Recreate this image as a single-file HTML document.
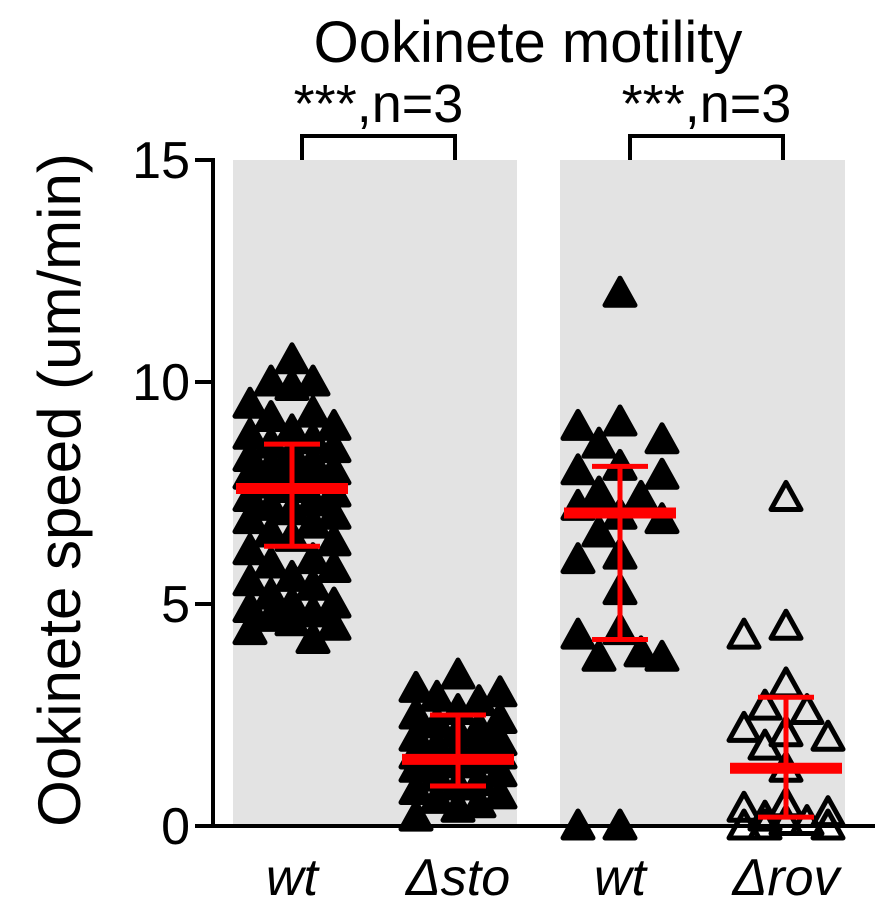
<!DOCTYPE html>
<html><head><meta charset="utf-8"><style>
body{margin:0;background:#fff}
svg text{font-family:"Liberation Sans",sans-serif;fill:#000}
</style></head><body>
<svg id="chart" width="875" height="913" viewBox="0 0 875 913" xmlns="http://www.w3.org/2000/svg">
<rect x="233" y="160" width="284" height="666" fill="#e3e3e3"/>
<rect x="560" y="160" width="285" height="666" fill="#e3e3e3"/>
<text x="528" y="62" font-size="58" text-anchor="middle">Ookinete motility</text>
<text transform="translate(80,490) rotate(-90)" font-size="60" text-anchor="middle">Ookinete speed (um/min)</text>
<g id="sig"></g>
<g id="marks"></g>
<g id="axes"></g>
</svg>
<script>
const categories = ["wt", "Δsto", "wt", "Δrov"];
const filled = [true, true, true, false];
const wtSto = [10.5,10.0,10.0,9.9,9.5,9.3,9.2,9.0,8.9,8.8,8.7,8.6,8.5,8.4,8.3,8.2,8.1,8.0,8.0,7.9,7.8,7.7,7.6,7.5,7.4,7.3,7.2,7.1,7.0,6.9,6.8,6.6,6.5,6.4,6.2,6.0,5.9,5.8,5.6,5.5,5.4,5.2,5.0,5.0,4.9,4.8,4.7,4.6,4.5,4.4,4.2];
const sto = [3.4,3.1,3.0,2.9,2.8,2.6,2.5,2.4,2.3,2.2,2.1,2.0,1.9,1.8,1.8,1.7,1.6,1.6,1.5,1.5,1.4,1.3,1.2,1.1,1.0,0.9,0.8,0.7,0.6,0.5,0.4,0.2];
const wtRov = [12.0,9.1,9.0,8.7,8.6,8.1,8.0,7.9,7.5,7.4,7.2,7.0,6.9,6.6,6.1,6.0,5.3,4.4,4.3,3.9,3.8,3.8,0,0];
const rov = [7.4,4.5,4.3,3.2,2.7,2.6,2.2,2.1,2.0,1.8,1.3,0.5,0.4,0.3,0.2,0.1,0.1,0,0,0];
const means = [7.6, 1.5, 7.05, 1.3];
const sdLow = [6.3, 0.9, 4.2, 0.2];
const sdHigh = [8.6, 2.5, 8.1, 2.9];
const yTicks = [0, 5, 10, 15];
const sigLabels = ["***,n=3", "***,n=3"];

const series = [wtSto, sto, wtRov, rov];
const NS = "http://www.w3.org/2000/svg";
const y0 = 826, yTop = 160, yMax = 15;
const y = v => y0 - v / yMax * (y0 - yTop);
const centers = [292, 458, 620, 786];
const x = i => centers[i];
function mk(tag, attrs, parent){const e=document.createElementNS(NS,tag);for(const k in attrs)e.setAttribute(k,attrs[k]);parent.appendChild(e);return e;}
const marks = document.getElementById('marks'), axes = document.getElementById('axes'), sig = document.getElementById('sig');

series.forEach((vals, gi) => {
  const placed = [];
  const step = 21, maxK = 2;
  vals.forEach(v => {
    const py = y(v);
    let best = 0, bestScore = -1;
    const order = [0];
    for (let k = 1; k <= maxK; k++) order.push(-k, k);
    for (const k of order) {
      const px = k * step;
      let md = 1e9;
      placed.forEach(p => { const d = Math.hypot((p.x - px) * 1.1, p.y - py); if (d < md) md = d; });
      if (md >= 30) { best = k; bestScore = 1e9; break; }
      if (md > bestScore) { bestScore = md; best = k; }
    }
    placed.push({x: best * step, y: py});
    const cx = x(gi) + best * step, s = 15;
    const t = mk('polygon', {points:`${cx},${py-s} ${cx-s},${py+s*0.8} ${cx+s},${py+s*0.8}`,
      fill: filled[gi] ? '#000' : 'none', stroke:'#000', 'stroke-width': 5, 'stroke-linejoin':'round'}, marks);
    
    
  });
  const cx = x(gi);
  const g = mk('g', {}, marks);
  
  
  mk('line', {x1:cx, x2:cx, y1:y(sdLow[gi]), y2:y(sdHigh[gi]), stroke:'#f00', 'stroke-width':5}, g);
  mk('line', {x1:cx-28, x2:cx+28, y1:y(sdLow[gi]), y2:y(sdLow[gi]), stroke:'#f00', 'stroke-width':5}, g);
  mk('line', {x1:cx-28, x2:cx+28, y1:y(sdHigh[gi]), y2:y(sdHigh[gi]), stroke:'#f00', 'stroke-width':5}, g);
  mk('line', {x1:cx-56, x2:cx+56, y1:y(means[gi]), y2:y(means[gi]), stroke:'#f00', 'stroke-width':11}, g);
  const lab = mk('text', {x: cx, y: 895, 'font-size': 52, 'font-style':'italic', 'text-anchor':'middle'}, axes);
  lab.textContent = categories[gi];
  
  
});

mk('line', {x1:213, x2:213, y1:yTop-2, y2:y0+2, stroke:'#000', 'stroke-width':4}, axes);
mk('line', {x1:211, x2:875, y1:y0, y2:y0, stroke:'#000', 'stroke-width':4}, axes);
yTicks.forEach(t => {
  mk('line', {x1:195, x2:213, y1:y(t), y2:y(t), stroke:'#000', 'stroke-width':4}, axes);
  const tl = mk('text', {x:190, y:y(t)+18, 'font-size':52, 'text-anchor':'end'}, axes);
  tl.textContent = t;
  
  
});

[[0,1],[2,3]].forEach((pr, i) => {
  const xa = x(pr[0]) + 10, xb = x(pr[1]) - 3;
  mk('polyline', {points:`${xa},160 ${xa},136 ${xb},136 ${xb},160`, fill:'none', stroke:'#000', 'stroke-width':4}, sig);
  const st = mk('text', {x:(xa+xb)/2, y:122, 'font-size':54, 'text-anchor':'middle'}, sig);
  st.textContent = sigLabels[i];
  
  
});
</script>
</body></html>
